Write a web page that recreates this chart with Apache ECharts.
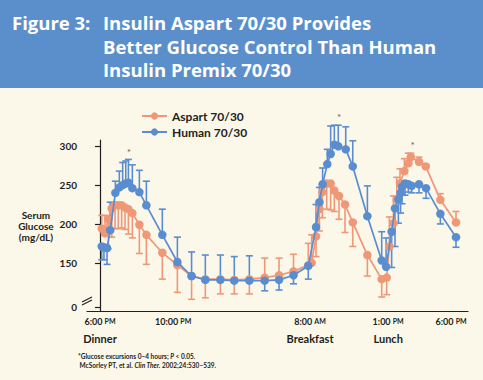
<!DOCTYPE html>
<html>
<head>
<meta charset="utf-8">
<script src="https://cdn.jsdelivr.net/npm/echarts@6/dist/echarts.min.js"></script>
<style>
html,body{margin:0;padding:0;background:#FBF7E9;}
#chart{width:483px;height:380px;}
</style>
</head>
<body>
<div id="chart"></div>
<script>
// ---- Data (x = hours after 6:00 PM, y = serum glucose mg/dL, cap = error-bar end) ----
const aspartX = [0.12,0.34,0.57,0.80,1.03,1.25,1.48,1.71,1.94,2.21,2.69,3.17,4.26,5.29,6.26,7.20,8.23,9.18,10.21,11.26,12.24,13.23,14.24,14.47,14.77,15.00,15.20,15.50,15.77,16.02,16.34,16.75,17.28,18.28,19.26,19.60,19.78,20.06,20.29,20.51,20.81,21.08,21.25,21.81,22.27,23.27,24.34];
const aspartY = [194,188,206,220,224,224,224,221,219,214,199,186,163,147,133,129,129,128,129,131,134,139,147,150,184,219,241,252,252,243,236,225,202,160,129,131,171,201,231,252,268,278,286,280,274,231,202];
const aspartCap = [211,211,168,183,194,194,195,193,187,182,162,148,129,112,103,105,110,110,110,156,156,161,175,186,158,191,208,219,218,216,206,189,171,133,106,109,209,236,260,271,284,291,291,286,276,239,216];

const humanX = [0.12,0.27,0.48,0.70,1.05,1.32,1.55,1.76,1.94,2.21,2.69,3.17,4.26,5.29,6.26,7.20,8.23,9.18,10.21,11.26,12.24,13.23,14.24,14.77,15.00,15.22,15.54,15.77,16.02,16.29,16.80,17.28,18.28,19.26,19.56,19.94,20.17,20.40,20.55,20.65,20.85,21.08,21.31,21.81,22.29,23.27,24.34];
const humanY = [171,170,169,192,240,247,250,252,253,246,241,224,186,151,133,128,128,127,127,127,128,134,146,196,228,251,277,290,302,300,296,274,210,153,145,190,220,232,240,248,252,251,249,251,246,213,183];
const humanCap = [154,154,148,228,255,268,279,281,283,276,269,255,219,183,164,160,160,158,159,114,115,123,129,225,247,272,296,326,327,327,325,307,249,190,182,144,171,201,214,226,237,241,240,240,233,200,170];

const seriesNames = ['Aspart 70/30', 'Human 70/30'];

// significance markers (x hours, y mg/dL)
const starX = [1.98, 16.34, 21.38];
const starY = [292, 337, 301];

// x-axis labels (positions in hours as drawn)
const xTickPos = [0, 5, 14.36, 19.7, 24];
const xTickTime = ['6:00', '10:00', '8:00', '1:00', '6:00'];
const xTickAmPm = ['PM', 'PM', 'AM', 'PM', 'PM'];
const mealLabels = ['Dinner', '', 'Breakfast', 'Lunch', ''];

// y-axis labels (0 shown at axis break)
const yTickPos = [93, 150, 200, 250, 300];
const yTickText = ['0', '150', '200', '250', '300'];

const titleLabel = 'Figure 3:';
const titleLines = ['Insulin Aspart 70/30 Provides', 'Better Glucose Control Than Human', 'Insulin Premix 70/30'];

// ---- Chart ----
const ORANGE = '#EF9877';
const BLUE = '#5A8DD0';
const BG = '#FBF7E9';
const TXT = '#231F20';
const FONT = 'Lato, "Open Sans", sans-serif';
const TFONT = '"Open Sans", Lato, sans-serif';

const chart = echarts.init(document.getElementById('chart'), null, {renderer: 'svg'});

function zip(xs, ys) { return xs.map((x, i) => [x, ys[i]]); }
function zip3(xs, ys, cs) { return xs.map((x, i) => [x, ys[i], cs[i]]); }

function errRender(color) {
  return function (params, api) {
    const x = api.value(0), y = api.value(1), c = api.value(2);
    const p0 = api.coord([x, y]);
    const p1 = api.coord([x, c]);
    const hw = 3.5;
    return {
      type: 'group',
      children: [
        {type: 'line', shape: {x1: p0[0], y1: p0[1], x2: p1[0], y2: p1[1]}, style: {stroke: color, lineWidth: 1.6}},
        {type: 'line', shape: {x1: p1[0] - hw, y1: p1[1], x2: p1[0] + hw, y2: p1[1]}, style: {stroke: color, lineWidth: 1.6}}
      ]
    };
  };
}

const option = {
  animation: false,
  backgroundColor: BG,
  textStyle: {fontFamily: FONT},
  title: [
    {text: titleLabel, left: 7, top: 6,
     textStyle: {color: '#fff', fontFamily: TFONT, fontWeight: 'bold', fontSize: 18.5, lineHeight: 23.5}},
    {text: titleLines.join('\n'), left: 98, top: 6,
     textStyle: {color: '#fff', fontFamily: TFONT, fontWeight: 'bold', fontSize: 18.5, lineHeight: 23.5}},
    {text: '*Glucose excursions 0\u20134 hours; {i|P} < 0.05.\n {n|McSorley PT, et al.} {i|Clin Ther.} {n|2002;24:530\u2013539.}',
     left: 73, top: 347,
     textStyle: {color: TXT, fontFamily: FONT, fontSize: 6.5, lineHeight: 9,
       rich: {i: {fontStyle: 'italic', fontSize: 6.5, color: TXT, fontFamily: FONT},
              n: {fontSize: 6.5, color: TXT, fontFamily: FONT}}}}
  ],
  legend: {
    orient: 'vertical', left: 136, top: 104, itemWidth: 25, itemHeight: 9, itemGap: 2,
    data: seriesNames,
    textStyle: {color: TXT, fontFamily: FONT, fontWeight: 'bold', fontSize: 12, lineHeight: 14}
  },
  grid: {left: 87, right: 15, top: 140, bottom: 69, containLabel: false},
  xAxis: {
    type: 'value', min: -0.89, max: 25.16,
    splitLine: {show: false},
    axisLine: {show: true, onZero: false, lineStyle: {color: TXT, width: 1.2}},
    axisTick: {show: false},
    axisLabel: {
      customValues: xTickPos, margin: 5, color: TXT, fontFamily: FONT,
      formatter: function (v) {
        let i = xTickPos.findIndex(p => Math.abs(p - v) < 1e-6);
        if (i < 0) return '';
        let s = '{t|' + xTickTime[i] + ' }{s|' + xTickAmPm[i] + '}';
        if (mealLabels[i]) s += '\n{m|' + mealLabels[i] + '}';
        return s;
      },
      rich: {
        t: {fontSize: 9, fontWeight: 'bold', color: TXT, fontFamily: FONT, lineHeight: 10},
        s: {fontSize: 7, fontWeight: 'bold', color: TXT, fontFamily: FONT, lineHeight: 10},
        m: {fontSize: 11, fontWeight: 'bold', color: TXT, fontFamily: FONT, lineHeight: 18, verticalAlign: 'bottom'}
      }
    }
  },
  yAxis: {
    type: 'value', min: 88, max: 308,
    name: 'Serum\nGlucose\n(mg/dL)', nameLocation: 'middle', nameRotate: 0, nameGap: 36,
    nameTextStyle: {color: TXT, fontFamily: FONT, fontWeight: 'bold', fontSize: 10, lineHeight: 11, align: 'center', padding: [0, 0, 13, 0]},
    splitLine: {show: false},
    axisLine: {show: true, lineStyle: {color: TXT, width: 1.2}},
    axisTick: {show: true, customValues: yTickPos, length: 5, lineStyle: {color: TXT, width: 1.2}},
    axisLabel: {
      customValues: yTickPos, margin: 10, color: TXT, fontFamily: FONT, fontWeight: 'bold', fontSize: 10,
      formatter: function (v) {
        let i = yTickPos.findIndex(p => Math.abs(p - v) < 1e-6);
        return i < 0 ? '' : yTickText[i];
      }
    }
  },
  series: [
    {name: 'errA', type: 'custom', renderItem: errRender(ORANGE), data: zip3(aspartX, aspartY, aspartCap),
     encode: {x: 0, y: [1, 2]}, z: 1, clip: false, silent: true},
    {name: 'errH', type: 'custom', renderItem: errRender(BLUE), data: zip3(humanX, humanY, humanCap),
     encode: {x: 0, y: [1, 2]}, z: 1, clip: false, silent: true},
    {name: seriesNames[0], type: 'line', data: zip(aspartX, aspartY), color: ORANGE,
     symbol: 'circle', symbolSize: 8.5, showAllSymbol: true, lineStyle: {width: 1.7, color: ORANGE},
     itemStyle: {color: ORANGE}, z: 3, clip: false},
    {name: seriesNames[1], type: 'line', data: zip(humanX, humanY), color: BLUE,
     symbol: 'circle', symbolSize: 8.5, showAllSymbol: true, lineStyle: {width: 1.7, color: BLUE},
     itemStyle: {color: BLUE}, z: 4, clip: false},
    {name: 'stars', type: 'scatter', data: zip(starX, starY), symbolSize: 1,
     itemStyle: {color: 'rgba(0,0,0,0)'}, clip: false, silent: true,
     label: {show: true, position: 'inside', formatter: '*', color: '#333', fontSize: 10, fontFamily: FONT}}
  ]
};

chart.setOption(option);

// header band and axis break mark on the y axis
const bp = chart.convertToPixel({gridIndex: 0}, [-0.89, 101]);
chart.setOption({
  graphic: [
    {type: 'rect', left: 0, top: 0, shape: {width: 483, height: 88}, style: {fill: '#5A8FCC'}, z: -1},
    {type: 'rect', shape: {x: bp[0] - 2, y: bp[1] - 3, width: 4, height: 6}, style: {fill: BG}, z: 10},
    {type: 'line', shape: {x1: bp[0] - 5, y1: bp[1] + 1, x2: bp[0] + 5, y2: bp[1] - 4}, style: {stroke: TXT, lineWidth: 1.1}, z: 11},
    {type: 'line', shape: {x1: bp[0] - 5, y1: bp[1] + 4, x2: bp[0] + 5, y2: bp[1] - 1}, style: {stroke: TXT, lineWidth: 1.1}, z: 11}
  ]
});
</script>
</body>
</html>
